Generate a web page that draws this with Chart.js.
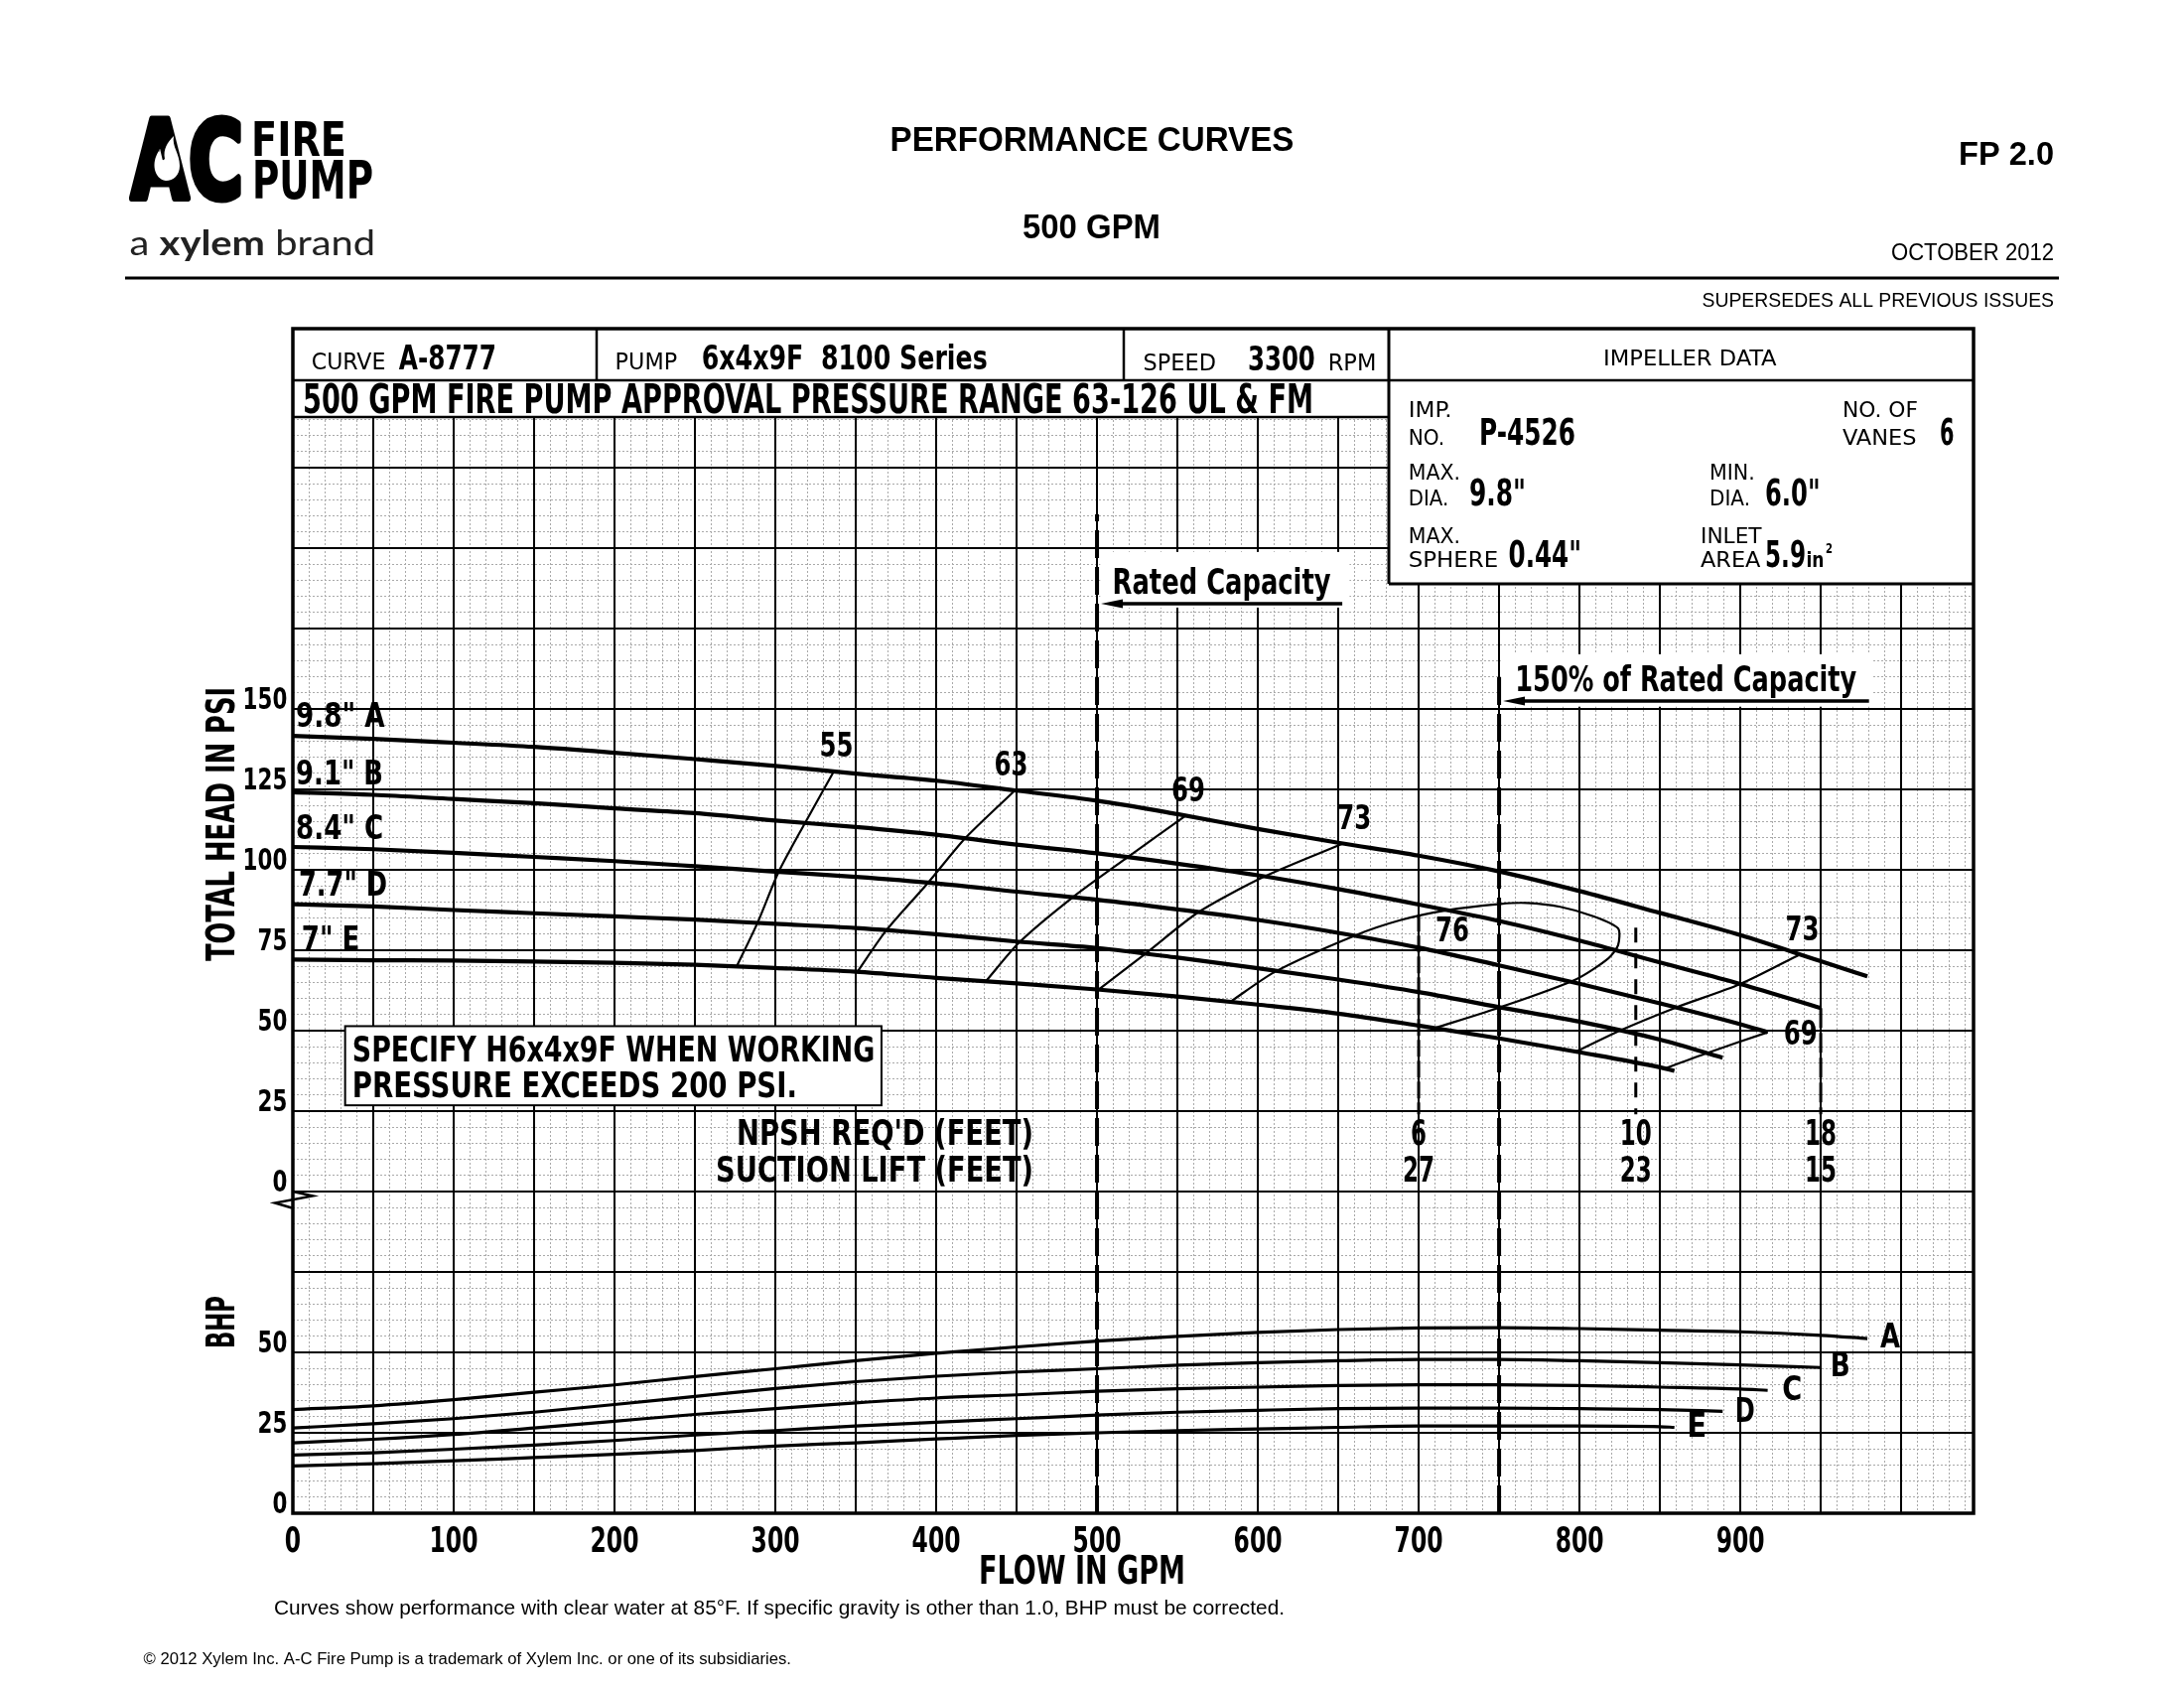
<!DOCTYPE html>
<html>
<head>
<meta charset="utf-8">
<script src="https://cdn.jsdelivr.net/npm/chart.js@4.4.1/dist/chart.umd.min.js"></script>
<style>
  html, body { margin: 0; padding: 0; background: #fff; overflow: hidden; }
  canvas { display: block; }
</style>
</head>
<body>
<canvas id="pumpChart" width="2200" height="1700"></canvas>
<script>
// ---- chart values ----
const flowA = [0,50,100,150,200,250,300,350,400,450,500,550,600,650,700,750,800,850,900,950,979];
const flowB = [0,50,100,150,200,250,300,350,400,450,500,550,600,650,700,750,800,850,900,950];
const flowC = [0,50,100,150,200,250,300,350,400,450,500,550,600,650,700,750,800,850,900,917];
const flowD = [0,50,100,150,200,250,300,350,400,450,500,550,600,650,700,750,800,850,889];
const flowE = [0,50,100,150,200,250,300,350,400,450,500,550,600,650,700,750,800,850,859];

// total head, psi
const headA = [141.6,140.7,139.5,138.2,136.4,134.4,132.3,129.9,127.7,124.6,121.5,117.3,112.7,108.4,104.4,99.5,93.4,86.6,79.7,71.6,66.9];
const headB = [124.1,123.3,122.0,120.7,119.1,117.6,115.3,113.3,110.9,107.8,105.1,101.9,98.3,94.0,89.2,84.1,78.0,71.2,64.5,57.0];
const headC = [107.1,106.4,105.3,104.0,102.7,101.1,99.4,97.8,95.8,93.2,90.7,87.7,84.4,80.4,75.8,70.3,64.6,58.5,52.0,49.5];
const headD = [89.3,88.6,87.5,86.5,85.5,84.5,83.2,81.9,80.0,77.7,75.7,72.7,69.4,65.9,62.0,57.3,52.8,47.2,41.6];
const headE = [72.1,71.9,71.8,71.5,71.1,70.5,69.5,68.3,66.4,64.7,62.8,60.6,58.1,55.3,51.6,47.6,43.3,38.6,37.5];

// brake horsepower
const bhpA = [32.2,33.4,35.3,37.6,39.9,42.5,44.9,47.4,49.7,51.7,53.5,55.0,56.2,57.1,57.6,57.7,57.4,56.9,56.4,55.3,54.3];
const bhpB = [26.5,27.8,29.4,31.4,33.8,36.3,38.8,40.9,42.6,43.9,44.9,46.0,46.8,47.4,47.8,47.8,47.4,46.8,46.1,45.3];
const bhpC = [21.9,23.0,24.5,26.5,28.6,30.7,32.5,34.3,35.8,36.8,37.9,38.7,39.2,39.7,39.9,39.9,39.7,39.2,38.6,38.2];
const bhpD = [18.1,18.8,19.9,21.2,22.6,24.3,25.7,27.1,28.3,29.4,30.5,31.4,32.0,32.5,32.7,32.7,32.5,32.2,31.7];
const bhpE = [14.7,15.4,16.3,17.3,18.3,19.5,20.9,21.9,23.1,24.2,25.0,25.7,26.2,26.7,27.1,27.1,27.1,26.9,26.7];

const curveIds = ['A','B','C','D','E'];
const diameters = ['9.8"','9.1"','8.4"','7.7"','7"'];

// efficiency lines (flow, head)
const eff55Flow = [276,289,302,318.5,336.4];
const eff55Head = [70.0,83.6,99.3,114.6,130.6];
const eff63Flow = [351,369,395,418,449];
const eff63Head = [68.3,81.2,96.0,109.8,124.7];
const eff69Flow = [431,452,485,519,555];
const eff69Head = [65.4,77.6,91.5,103.9,116.8];
const eff73Flow = [501,530,563,604,653];
const eff73Head = [62.8,73.9,86.8,97.9,108.2];
const eff76Flow = [583,611,660,689,717,751,767,788,809,824,824,818,798,752,710];
const eff76Head = [59.0,68.4,79.5,84.4,87.4,89.4,89.7,88.5,85.5,81.8,76.6,72.5,66.0,57.5,50.8];
const eff73rFlow = [798,825,860,900,937];
const eff73rHead = [43.5,50.0,57.2,64.5,73.7];
const eff69rFlow = [853,879,917];
const eff69rHead = [38.2,43.0,49.5];

const ratedFlow = 500;
const overloadFlow = 750;
const npshFlow = [700,835,950];
const npshTop = [86,82,57];
const npshReq = ['6','10','18'];
const suctionLift = ['27','23','15'];

const flowTicks = [0,100,200,300,400,500,600,700,800,900];
const headTicks = [0,25,50,75,100,125,150];
const bhpTicks = [0,25,50];

// ---- layout ----
const flowMax = 1045;
const bhpTop = 368.2;
const headOffset = 100;
const NARROW = '"Liberation Sans Narrow", "DejaVu Sans Condensed", "Arial Narrow", sans-serif';
const SANS = '"Liberation Sans", Arial, sans-serif';

function range(a, b, s) {
  const out = [];
  for (let v = a; v <= b + 1e-9; v += s) out.push(Math.round(v * 1000) / 1000);
  return out;
}

const flowLabel = v => flowTicks.includes(v) ? String(v) : '';
const leftLabel = v => bhpTicks.includes(v) ? String(v)
  : headTicks.includes(v - headOffset) ? String(v - headOffset) : '';

function put(ctx, s, x, y, size, o = {}) {
  ctx.save();
  ctx.font = (o.bold ? 'bold ' : '') + size + 'px ' + (o.family || NARROW);
  ctx.fillStyle = '#000';
  ctx.textBaseline = 'alphabetic';
  ctx.textAlign = 'left';
  const m = ctx.measureText(s).width;
  const w = o.w || m;
  ctx.translate(x, y);
  if (o.rot) ctx.rotate(o.rot);
  ctx.translate(o.align === 'center' ? -w / 2 : o.align === 'right' ? -w : 0, 0);
  ctx.scale(w / m, 1);
  if (o.stroke) {
    ctx.lineWidth = o.stroke;
    ctx.lineJoin = 'round';
    ctx.strokeStyle = '#000';
    ctx.strokeText(s, 0, 0);
  }
  ctx.fillText(s, 0, 0);
  ctx.restore();
}

function seg(ctx, x1, y1, x2, y2, w) {
  ctx.save();
  ctx.lineWidth = w;
  ctx.strokeStyle = '#000';
  ctx.beginPath();
  ctx.moveTo(x1, y1);
  ctx.lineTo(x2, y2);
  ctx.stroke();
  ctx.restore();
}

function arrowLeft(ctx, x1, x2, y) {
  seg(ctx, x1 + 10, y, x2, y, 3.5);
  ctx.save();
  ctx.fillStyle = '#000';
  ctx.beginPath();
  ctx.moveTo(x1, y);
  ctx.lineTo(x1 + 22, y - 4.5);
  ctx.lineTo(x1 + 22, y + 4.5);
  ctx.closePath();
  ctx.fill();
  ctx.restore();
}

const sheet = {
  id: 'sheet',
  beforeDatasetsDraw(chart) {
    const { ctx, chartArea: ca, scales } = chart;
    const X = v => scales.x.getPixelForValue(v);
    const Hd = v => scales.yHead.getPixelForValue(v);
    ctx.save();
    ctx.fillStyle = '#fff';
    // header rows and impeller block
    ctx.fillRect(ca.left, ca.top, ca.right - ca.left, 89);
    ctx.fillRect(1399, ca.top, ca.right - 1399, 257);
    // note boxes
    ctx.fillRect(X(502), Hd(198.8), X(657) - X(502), Hd(181.5) - Hd(198.8));
    ctx.fillRect(X(751), Hd(167), X(982) - X(751), Hd(150.7) - Hd(167));
    const bx = X(32.5), by = Hd(51.4), bw = X(366) - bx, bh = Hd(26.8) - by;
    ctx.fillRect(bx, by, bw, bh);
    ctx.lineWidth = 2;
    ctx.strokeStyle = '#000';
    ctx.strokeRect(bx, by, bw, bh);
    ctx.restore();
  },
  afterDatasetsDraw(chart) {
    const { ctx, chartArea: ca, scales } = chart;
    const X = v => scales.x.getPixelForValue(v);
    const Hd = v => scales.yHead.getPixelForValue(v);
    const Bp = v => scales.y.getPixelForValue(v);
    const t = ca.top;

    // header lines
    seg(ctx, ca.left, t + 52, ca.right, t + 52, 2.5);
    seg(ctx, ca.left, t + 89, 1399, t + 89, 2.5);
    seg(ctx, 1399, t, 1399, t + 257, 3);
    seg(ctx, 1399, t + 257, ca.right, t + 257, 3);
    seg(ctx, 601, t, 601, t + 52, 2.5);
    seg(ctx, 1132, t, 1132, t + 52, 2.5);

    // header text
    put(ctx, 'CURVE', 313.8, 372, 23, { w: 74.6 });
    put(ctx, 'A-8777', 401.8, 372, 34, { bold: true, w: 98.2 });
    put(ctx, 'PUMP', 619.6, 372, 23, { w: 62.5 });
    put(ctx, '6x4x9F  8100 Series', 706.7, 372, 34, { bold: true, w: 288 });
    put(ctx, 'SPEED', 1151.6, 372.7, 23, { w: 73.4 });
    put(ctx, '3300', 1257, 372.7, 34, { bold: true, w: 67.8 });
    put(ctx, 'RPM', 1337.7, 372.7, 23, { w: 48.7 });
    put(ctx, 'IMPELLER DATA', 1615, 368.3, 22, { w: 174.6 });
    put(ctx, '500 GPM FIRE PUMP APPROVAL PRESSURE RANGE 63-126 UL & FM', 305, 416, 41, { bold: true, w: 1018 });

    put(ctx, 'IMP.', 1418.7, 420, 21, { w: 44 });
    put(ctx, 'NO.', 1418.7, 447.7, 21, { w: 36.4 });
    put(ctx, 'P-4526', 1490, 447.7, 38, { bold: true, w: 97 });
    put(ctx, 'NO. OF', 1856, 420, 21, { w: 76 });
    put(ctx, 'VANES', 1856, 447.7, 21, { w: 74.5 });
    put(ctx, '6', 1954, 447.7, 38, { bold: true, w: 14.5 });
    put(ctx, 'MAX.', 1418.7, 483.3, 21, { w: 52.3 });
    put(ctx, 'DIA.', 1418.7, 509.3, 21, { w: 40.5 });
    put(ctx, '9.8"', 1480, 509.3, 38, { bold: true, w: 57 });
    put(ctx, 'MIN.', 1722, 483.3, 21, { w: 45.8 });
    put(ctx, 'DIA.', 1722, 509.3, 21, { w: 41 });
    put(ctx, '6.0"', 1778, 509.3, 38, { bold: true, w: 55.6 });
    put(ctx, 'MAX.', 1418.7, 546.7, 21, { w: 52.3 });
    put(ctx, 'SPHERE', 1418.7, 570.7, 21, { w: 90.4 });
    put(ctx, '0.44"', 1519.6, 570.7, 38, { bold: true, w: 73.4 });
    put(ctx, 'INLET', 1713, 546.7, 21, { w: 61.6 });
    put(ctx, 'AREA', 1713, 570.7, 21, { w: 60.4 });
    put(ctx, '5.9', 1778, 570.7, 38, { bold: true, w: 41 });
    put(ctx, 'in', 1819.5, 570.7, 22, { bold: true, w: 18 });
    put(ctx, '2', 1839, 557, 14, { bold: true, w: 7 });

    // capacity notes
    put(ctx, 'Rated Capacity', X(509.6), Hd(185.8), 35, { bold: true, w: 220 });
    arrowLeft(ctx, X(ratedFlow) + 4, X(652.5), Hd(182.7));
    put(ctx, '150% of Rated Capacity', X(760), Hd(155.5), 35, { bold: true, w: 344 });
    arrowLeft(ctx, X(overloadFlow) + 4, X(980), Hd(152.5));

    put(ctx, 'SPECIFY H6x4x9F WHEN WORKING', X(36.9), Hd(40.3), 35, { bold: true, w: 526.6 });
    put(ctx, 'PRESSURE EXCEEDS 200 PSI.', X(36.9), Hd(29.3), 35, { bold: true, w: 448.2 });

    // impeller curve labels
    const lblFlow = [1.9, 1.9, 1.9, 3.7, 5.4];
    const lblHead = [144.4, 126.5, 109.6, 92.1, 75.1];
    const lblW = [89.6, 88, 88, 89, 58.7];
    curveIds.forEach((id, i) => {
      put(ctx, diameters[i] + ' ' + id, X(lblFlow[i]), Hd(lblHead[i]), 33, { bold: true, w: lblW[i] });
    });

    // efficiency labels
    [['55', 338, 135.3], ['63', 446.6, 129.4], ['69', 556.7, 121.4], ['73', 660, 112.6],
     ['76', 721, 77.7], ['73', 938.6, 78.2], ['69', 937.5, 45.8]].forEach(([s, f, h]) => {
      put(ctx, s, X(f), Hd(h), 34, { bold: true, align: 'center', w: 34 });
    });

    // NPSH / suction lift
    put(ctx, "NPSH REQ'D (FEET)", X(460.5), Hd(14.5), 36, { bold: true, align: 'right', w: 299 });
    put(ctx, 'SUCTION LIFT (FEET)', X(460.5), Hd(3.1), 36, { bold: true, align: 'right', w: 320 });
    npshFlow.forEach((f, i) => {
      put(ctx, npshReq[i], X(f), Hd(14.5), 36, { bold: true, align: 'center', w: npshReq[i].length * 16 });
      put(ctx, suctionLift[i], X(f), Hd(3.1), 36, { bold: true, align: 'center', w: suctionLift[i].length * 16 });
    });

    // BHP curve letters
    const bhpLblFlow = [987, 956, 926, 896.7, 866.7];
    const bhpLblVal = [51.6, 42.6, 35.2, 28.5, 23.9];
    curveIds.forEach((id, i) => put(ctx, id, X(bhpLblFlow[i]), Bp(bhpLblVal[i]), 34, { bold: true, w: 20 }));

    // axis break mark at 0 psi
    const x0 = X(0), y0 = Hd(0);
    ctx.save();
    ctx.lineWidth = 2.5;
    ctx.strokeStyle = '#000';
    ctx.beginPath();
    ctx.moveTo(x0, y0);
    ctx.lineTo(x0 + 20, y0 + 4.5);
    ctx.lineTo(x0 - 18, y0 + 11.5);
    ctx.lineTo(x0 - 1, y0 + 16.5);
    ctx.stroke();
    ctx.restore();

    // plot frame
    ctx.save();
    ctx.lineWidth = 3.5;
    ctx.strokeStyle = '#000';
    ctx.strokeRect(ca.left, ca.top, ca.right - ca.left, ca.bottom - ca.top);
    ctx.restore();

    // tick labels, placed on the scales' own ticks (condensed lettering)
    scales.x.ticks.forEach(tk => {
      const lab = flowLabel(tk.value);
      if (lab) put(ctx, lab, X(tk.value), ca.bottom + 38.7, 35, { bold: true, align: 'center', w: lab.length * 16.3 });
    });
    scales.y.ticks.forEach(tk => {
      const lab = leftLabel(tk.value);
      if (lab) put(ctx, lab, ca.left - 5.7, Bp(tk.value), 30, { bold: true, align: 'right', w: lab.length * 14.9 });
    });
  },
  afterDraw(chart) {
    const { ctx } = chart;
    // logo
    put(ctx, 'AC', 132, 199, 108, { bold: true, family: '"DejaVu Sans", sans-serif', w: 113, stroke: 7 });
    ctx.save();
    ctx.fillStyle = '#fff';
    ctx.beginPath();
    ctx.moveTo(167, 182);
    ctx.bezierCurveTo(155, 180, 152, 164, 160, 152);
    ctx.bezierCurveTo(160, 160, 164, 163, 166, 160);
    ctx.bezierCurveTo(164, 150, 169, 143, 175, 137);
    ctx.bezierCurveTo(173, 148, 181, 154, 181, 167);
    ctx.bezierCurveTo(181, 176, 175, 182, 167, 182);
    ctx.fill();
    ctx.restore();
    put(ctx, 'FIRE', 253, 156.7, 48, { bold: true, w: 96 });
    put(ctx, 'PUMP', 254, 200, 53, { bold: true, w: 122 });
    ctx.save();
    ctx.fillStyle = '#222';
    const parts = [['a ', ''], ['xylem', 'bold '], [' brand', '']];
    const fam = 'px Lato, "Open Sans", sans-serif';
    let tw = 0;
    parts.forEach(p => { ctx.font = p[1] + '34' + fam; tw += ctx.measureText(p[0]).width; });
    const k = 247.4 / tw;
    let px = 130.6;
    parts.forEach(p => {
      ctx.font = p[1] + '34' + fam;
      const w = ctx.measureText(p[0]).width;
      ctx.save();
      ctx.translate(px, 256.7);
      ctx.scale(k, 1);
      ctx.fillText(p[0], 0, 0);
      ctx.restore();
      px += w * k;
    });
    ctx.restore();
    seg(ctx, 126, 280, 2074, 280, 3);

    put(ctx, 'PERFORMANCE CURVES', 1100, 151.5, 35, { bold: true, family: SANS, align: 'center', w: 407 });
    put(ctx, '500 GPM', 1099.5, 240, 35, { bold: true, family: SANS, align: 'center', w: 139 });
    put(ctx, 'FP 2.0', 2069, 165.5, 34, { bold: true, family: SANS, align: 'right', w: 96 });
    put(ctx, 'OCTOBER 2012', 2069, 262, 23, { family: SANS, align: 'right', w: 164 });
    put(ctx, 'SUPERSEDES ALL PREVIOUS ISSUES', 2069, 308.6, 21, { family: SANS, align: 'right', w: 354.5 });

    put(ctx, 'TOTAL HEAD IN PSI', 235.6, 830, 39, { bold: true, rot: -Math.PI / 2, align: 'center', w: 276 });
    put(ctx, 'BHP', 235.6, 1331.5, 39, { bold: true, rot: -Math.PI / 2, align: 'center', w: 53 });
    put(ctx, 'FLOW IN GPM', 1090, 1595, 39, { bold: true, align: 'center', w: 208 });

    put(ctx, 'Curves show performance with clear water at 85\u00B0F. If specific gravity is other than 1.0, BHP must be corrected.',
      276, 1626, 21, { family: SANS, w: 1018 });
    put(ctx, '\u00A9 2012 Xylem Inc. A-C Fire Pump is a trademark of Xylem Inc. or one of its subsidiaries.',
      144.5, 1676, 16, { family: SANS, w: 652.5 });
  }
};

const curve = (xs, ys, axis, width) => ({
  data: xs.map((x, i) => ({ x, y: ys[i] })),
  xAxisID: 'x', yAxisID: axis,
  borderColor: '#000', borderWidth: width,
  pointRadius: 0, fill: false, cubicInterpolationMode: 'monotone'
});
const iso = (xs, ys) => ({
  data: xs.map((x, i) => ({ x, y: ys[i] })),
  xAxisID: 'x', yAxisID: 'yHead',
  borderColor: '#000', borderWidth: 2.2,
  pointRadius: 0, fill: false, tension: 0.25
});
const vline = (x, y0, y1, width, dash) => ({
  data: [{ x, y: y0 }, { x, y: y1 }],
  xAxisID: 'x', yAxisID: 'yHead',
  borderColor: '#000', borderWidth: width, borderDash: dash,
  pointRadius: 0, fill: false, tension: 0
});

const datasets = [
  curve(flowA, headA, 'yHead', 4.2),
  curve(flowB, headB, 'yHead', 4.2),
  curve(flowC, headC, 'yHead', 4.2),
  curve(flowD, headD, 'yHead', 4.2),
  curve(flowE, headE, 'yHead', 4.2),
  curve(flowA, bhpA, 'y', 3.2),
  curve(flowB, bhpB, 'y', 3.2),
  curve(flowC, bhpC, 'y', 3.2),
  curve(flowD, bhpD, 'y', 3.2),
  curve(flowE, bhpE, 'y', 3.2),
  iso(eff55Flow, eff55Head),
  iso(eff63Flow, eff63Head),
  iso(eff69Flow, eff69Head),
  iso(eff73Flow, eff73Head),
  iso(eff76Flow, eff76Head),
  iso(eff73rFlow, eff73rHead),
  iso(eff69rFlow, eff69rHead),
  vline(ratedFlow, -headOffset, 210.5, 4, [28, 9]),
  vline(overloadFlow, -headOffset, 160.5, 4, [28, 9]),
  vline(npshFlow[0], npshTop[0], 24, 3, [17, 4]),
  vline(npshFlow[1], npshTop[1], 24, 3, [15, 11]),
  vline(npshFlow[2], npshTop[2], 24, 3, [20, 5])
];

new Chart(document.getElementById('pumpChart'), {
  type: 'line',
  data: { datasets },
  plugins: [sheet],
  options: {
    responsive: false,
    devicePixelRatio: 1,
    animation: false,
    events: [],
    layout: { padding: { left: 215, right: 212, top: 331, bottom: 116 } },
    plugins: { legend: { display: false }, tooltip: { enabled: false } },
    scales: {
      xMinor: {
        type: 'linear', position: 'bottom', min: 0, max: flowMax,
        grid: { z: -2, drawTicks: false, lineWidth: 1,
          color: c => (c.tick && c.tick.value % 50 === 0) ? 'rgba(0,0,0,0)' : '#a9a9a9' },
        border: { display: false, dash: [2, 2] },
        ticks: { display: false },
        afterBuildTicks: s => { s.ticks = range(0, flowMax, 10).map(v => ({ value: v })); },
        afterFit: s => { s.height = 0; }
      },
      yMinor: {
        type: 'linear', position: 'left', min: 0, max: bhpTop,
        grid: { z: -2, drawTicks: false, lineWidth: 1,
          color: c => (c.tick && c.tick.value % 25 === 0) ? 'rgba(0,0,0,0)' : '#a9a9a9' },
        border: { display: false, dash: [2, 2] },
        ticks: { display: false },
        afterBuildTicks: s => { s.ticks = range(0, bhpTop, 5).map(v => ({ value: v })); },
        afterFit: s => { s.width = 0; }
      },
      x: {
        type: 'linear', position: 'bottom', min: 0, max: flowMax,
        grid: { drawTicks: false, lineWidth: 2, color: '#000' },
        border: { display: false },
        ticks: { display: false, callback: v => flowLabel(v) },
        afterBuildTicks: s => { s.ticks = range(0, 1000, 50).map(v => ({ value: v })); },
        afterFit: s => { s.height = 60; }
      },
      y: {
        type: 'linear', position: 'left', min: 0, max: bhpTop,
        grid: { drawTicks: false, lineWidth: 2, color: '#000' },
        border: { display: false },
        ticks: { display: false, callback: v => leftLabel(v) },
        afterBuildTicks: s => { s.ticks = range(0, 350, 25).map(v => ({ value: v })); },
        afterFit: s => { s.width = 80; }
      },
      yHead: {
        type: 'linear', display: false, min: -headOffset, max: bhpTop - headOffset,
        afterFit: s => { s.width = 0; }
      }
    }
  }
});
</script>
</body>
</html>
